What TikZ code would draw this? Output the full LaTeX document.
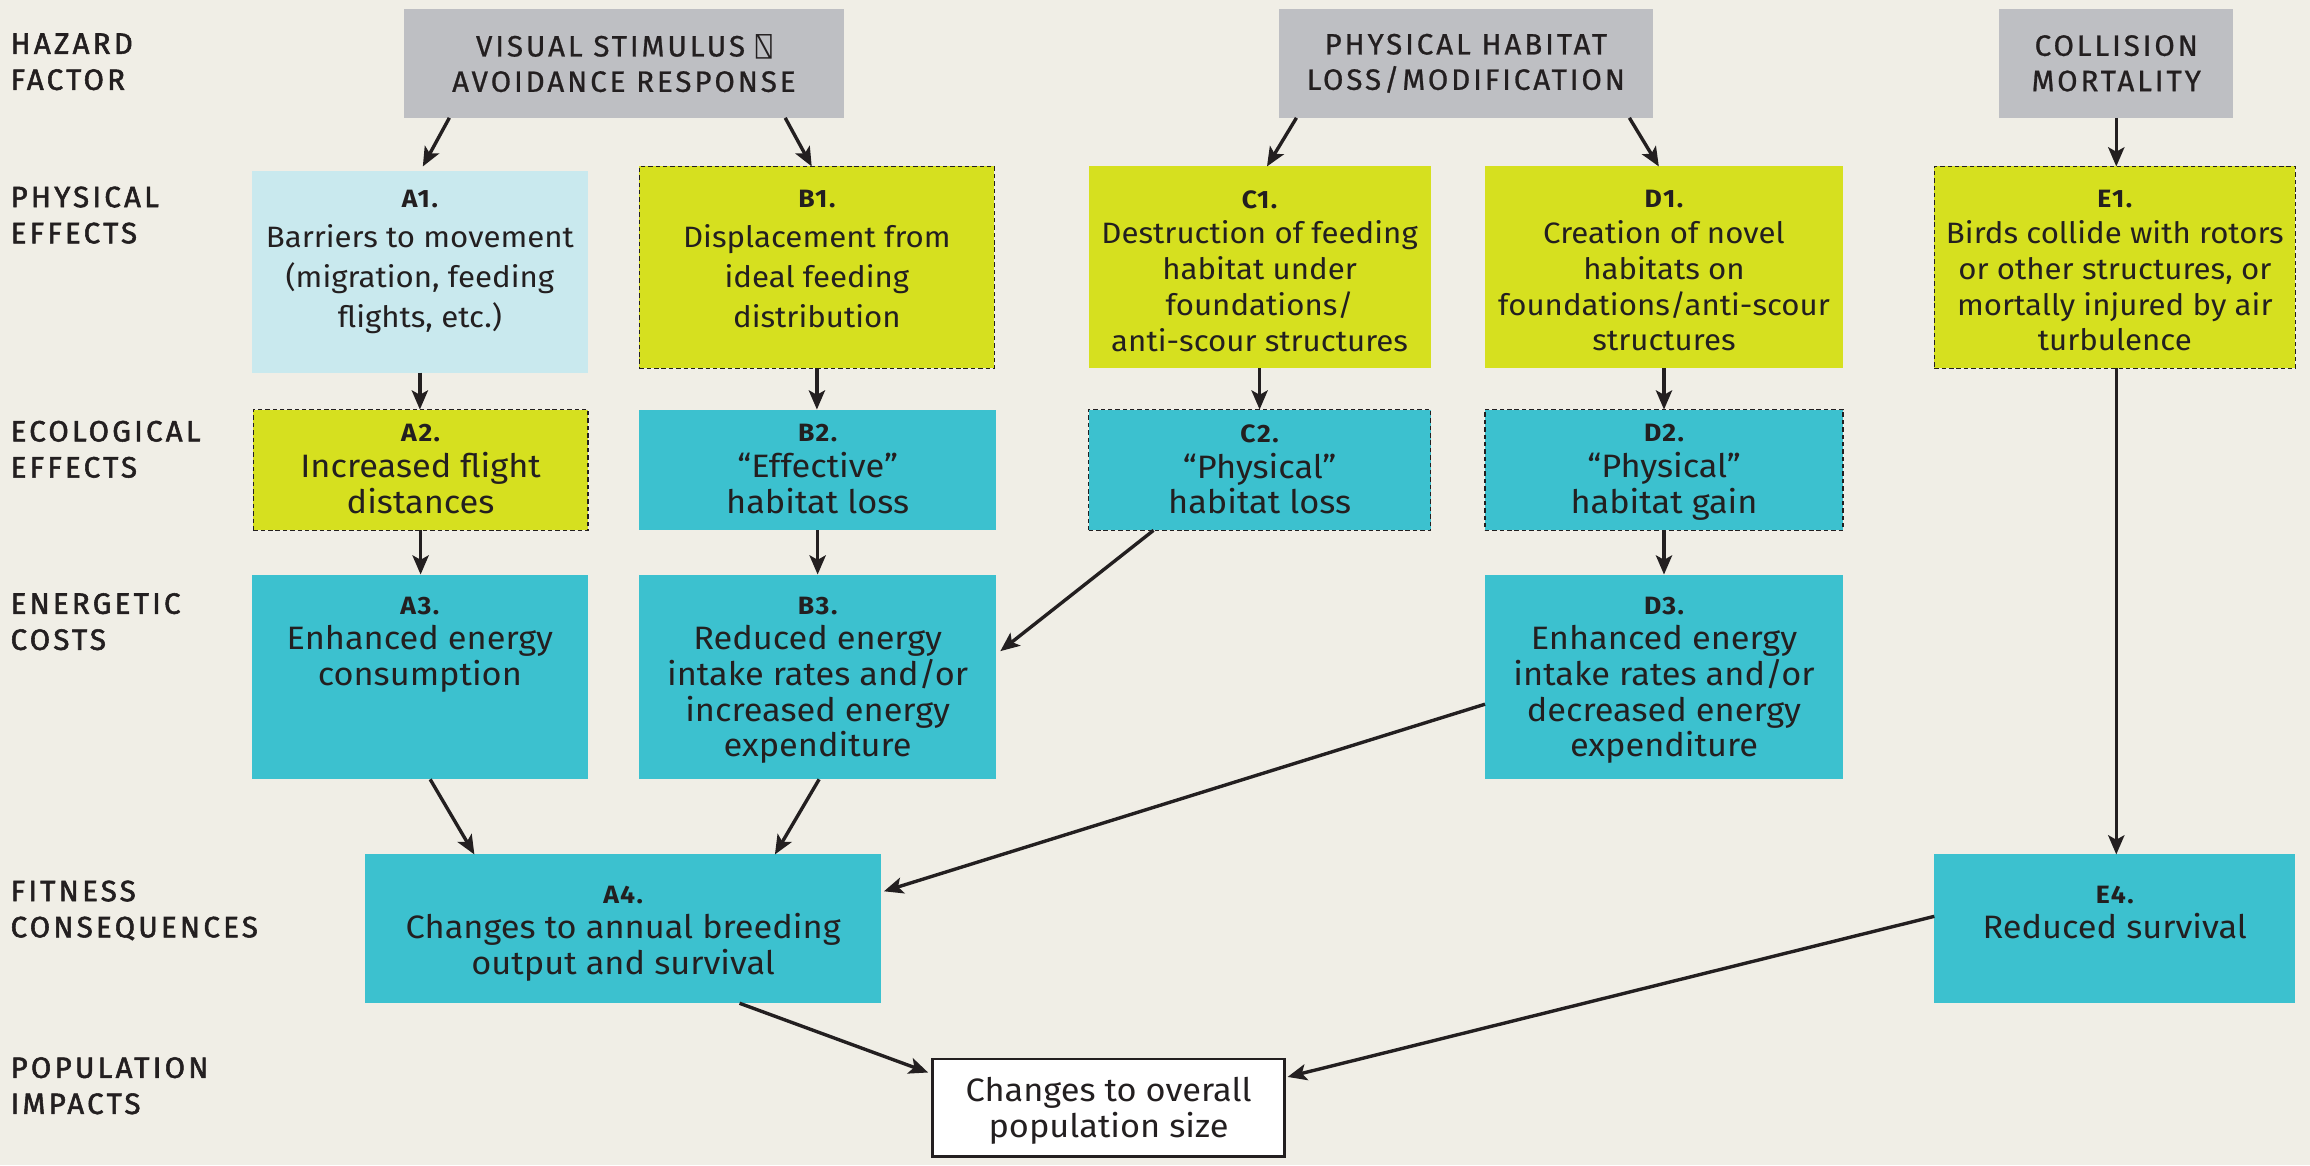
\documentclass[tikz,border=0pt]{standalone}
\usepackage{fontspec}
\setmainfont{Fira Sans}[FakeStretch=1.06]
\newfontfamily\hdfont{Fira Sans}[LetterSpace=10,FakeBold=0.8]
\newfontfamily\sdfont{Fira Sans}[LetterSpace=11,FakeBold=1.8]
\newfontfamily\labfont{Fira Sans Bold}[LetterSpace=6]
\newfontfamily\tofufont{DejaVu Sans Mono}
\usetikzlibrary{arrows.meta,calc}
\definecolor{bg}{HTML}{F0EEE6}
\definecolor{hzgray}{HTML}{BEBFC3}
\definecolor{teal}{HTML}{3CC1CF}
\definecolor{yel}{HTML}{D6E01F}
\definecolor{lblue}{HTML}{C9E9EE}
\definecolor{ink}{HTML}{231F20}
\tikzset{
  bx/.style={anchor=north west,inner sep=0pt,outer sep=0pt,draw=none},
  dbx/.style={bx,draw=ink,line width=1pt,dash pattern=on 3pt off 2pt},
  txt/.style={align=center,inner sep=0pt,anchor=north,text=ink},
  hd/.style={align=center,inner sep=0pt,text=ink,font=\hdfont\fontsize{20}{24}\selectfont},
  side/.style={align=left,inner sep=0pt,anchor=west,text=ink,font=\sdfont\fontsize{20}{24.5}\selectfont},
  rowa/.style={txt,font=\fontsize{20}{24.3}\selectfont},
  rowb/.style={txt,font=\fontsize{22}{24.2}\selectfont},
  arr/.style={draw=ink,line width=2.3pt,-{Stealth[length=13pt,width=11pt,inset=3pt]}}
}
\newcommand\lab[1]{{\bfseries\addfontfeatures{LetterSpace=6}\fontsize{17}{24}\selectfont #1}}
\begin{document}
\begin{tikzpicture}[x=1pt,y=-1pt]
\fill[bg] (0,0) rectangle (1568,791);
\useasboundingbox (0,0) rectangle (1568,791);
% side labels
\node[side] (s1) at (7,42) {HAZARD\\FACTOR};
\node[side] (s2) at (7,146) {PHYSICAL\\EFFECTS};
\node[side] (s3) at (7,305) {ECOLOGICAL\\EFFECTS};
\node[side] (s4) at (7,422) {ENERGETIC\\COSTS};
\node[side] (s5) at (7,618) {FITNESS\\CONSEQUENCES};
\node[side] (s6) at (7,737) {POPULATION\\IMPACTS};
% hazard boxes
\node[bx,fill=hzgray,minimum width=299pt,minimum height=74pt] (VIS) at (274,6) {};
\node[hd] (VISt) at (VIS.center) {VISUAL STIMULUS {\tofufont\fontsize{18}{24}\selectfont ⍂}\\AVOIDANCE RESPONSE};
\node[bx,fill=hzgray,minimum width=254pt,minimum height=74pt] (PHY) at (868,6) {};
\node[hd] (PHYt) at (PHY.center) {PHYSICAL HABITAT\\LOSS/MODIFICATION};
\node[bx,fill=hzgray,minimum width=159pt,minimum height=74pt] (COL) at (1357,6) {};
\node[hd] (COLt) at (COL.center) {COLLISION\\MORTALITY};
% row 1
\node[bx,fill=lblue,minimum width=228pt,minimum height=137pt] (A1) at (171,116) {};
\node[rowa,font=\fontsize{20}{27}\selectfont] (A1t) at ([yshift=-13pt]A1.north) {\lab{A1.}\\Barriers to movement\\(migration, feeding\\flights, etc.)};
\node[dbx,fill=yel,minimum width=241pt,minimum height=137pt] (B1) at (434,113) {};
\node[rowa,font=\fontsize{20}{27}\selectfont] (B1t) at ([yshift=-16pt]B1.north) {\lab{B1.}\\Displacement from\\ideal feeding\\distribution};
\node[bx,fill=yel,minimum width=232pt,minimum height=137pt] (C1) at (739,113) {};
\node[rowa] (C1t) at ([yshift=-16pt]C1.north) {\lab{C1.}\\Destruction of feeding\\habitat under\\foundations/\\anti-scour structures};
\node[bx,fill=yel,minimum width=243pt,minimum height=137pt] (D1) at (1008,113) {};
\node[rowa] (D1t) at ([yshift=-16pt]D1.north) {\lab{D1.}\\Creation of novel\\habitats on\\foundations/anti-scour\\structures};
\node[dbx,fill=yel,minimum width=245pt,minimum height=137pt] (E1) at (1313,113) {};
\node[rowa] (E1t) at ([yshift=-16pt]E1.north) {\lab{E1.}\\Birds collide with rotors\\or other structures, or\\mortally injured by air\\turbulence};
% row 2
\node[dbx,fill=yel,minimum width=227pt,minimum height=82pt] (A2) at (172,278) {};
\node[rowb] (A2t) at ([yshift=-10pt]A2.north) {\lab{A2.}\\Increased flight\\distances};
\node[bx,fill=teal,minimum width=242pt,minimum height=82pt] (B2) at (434,278) {};
\node[rowb] (B2t) at ([yshift=-10pt]B2.north) {\lab{B2.}\\“Effective”\\habitat loss};
\node[dbx,fill=teal,minimum width=232pt,minimum height=82pt] (C2) at (739,278) {};
\node[rowb] (C2t) at ([yshift=-10pt]C2.north) {\lab{C2.}\\“Physical”\\habitat loss};
\node[dbx,fill=teal,minimum width=243pt,minimum height=82pt] (D2) at (1008,278) {};
\node[rowb] (D2t) at ([yshift=-10pt]D2.north) {\lab{D2.}\\“Physical”\\habitat gain};
% row 3
\node[bx,fill=teal,minimum width=228pt,minimum height=139pt] (A3) at (171,390) {};
\node[rowb] (A3t) at ([yshift=-15pt]A3.north) {\lab{A3.}\\Enhanced energy\\consumption};
\node[bx,fill=teal,minimum width=242pt,minimum height=139pt] (B3) at (434,390) {};
\node[rowb] (B3t) at ([yshift=-15pt]B3.north) {\lab{B3.}\\Reduced energy\\intake rates and/or\\increased energy\\expenditure};
\node[bx,fill=teal,minimum width=243pt,minimum height=139pt] (D3) at (1008,390) {};
\node[rowb] (D3t) at ([yshift=-15pt]D3.north) {\lab{D3.}\\Enhanced energy\\intake rates and/or\\decreased energy\\expenditure};
% row 4
\node[bx,fill=teal,minimum width=350pt,minimum height=101pt] (A4) at (248,580) {};
\node[rowb] (A4t) at ([yshift=-21pt]A4.north) {\lab{A4.}\\Changes to annual breeding\\output and survival};
\node[bx,fill=teal,minimum width=245pt,minimum height=101pt] (E4) at (1313,580) {};
\node[rowb] (E4t) at ([yshift=-21pt]E4.north) {\lab{E4.}\\Reduced survival};
% population
\node[bx,fill=white,draw=ink,line width=1.6pt,minimum width=239pt,minimum height=66pt] (POP) at (633,719) {};
\node[rowb,anchor=center] (POPt) at ([yshift=-2pt]POP.center) {Changes to overall\\population size};
% arrows
\draw[arr] ([xshift=31pt]VIS.south west) -- ([xshift=116pt,yshift=3pt]A1.north west);
\draw[arr] ([xshift=259pt]VIS.south west) -- ([xshift=117pt]B1.north west);
\draw[arr] ([xshift=12pt]PHY.south west) -- ([xshift=121pt]C1.north west);
\draw[arr] ([xshift=238pt]PHY.south west) -- ([xshift=118pt]D1.north west);
\draw[arr] (COL.south) -- (COL.south |- E1.north);
\draw[arr] (A1.south) -- (A1.south |- A2.north);
\draw[arr] (B1.south) -- (B1.south |- B2.north);
\draw[arr] (C1.south) -- (C1.south |- C2.north);
\draw[arr] (D1.south) -- (D1.south |- D2.north);
\draw[arr] (A2.south) -- (A2.south |- A3.north);
\draw[arr] (B2.south) -- (B2.south |- B3.north);
\draw[arr] (D2.south) -- (D2.south |- D3.north);
\draw[arr] ([xshift=44pt]C2.south west) -- ([yshift=-52pt,xshift=3pt]B3.north east);
\draw[arr] ([xshift=121pt]A3.south west) -- ([xshift=74pt]A4.north west);
\draw[arr] ([xshift=122pt]B3.south west) -- ([xshift=278pt]A4.north west);
\draw[arr] ([yshift=-88pt]D3.north west) -- ([yshift=-25pt,xshift=2pt]A4.north east);
\draw[arr] (E1.south -| COL.south) -- (COL.south |- E4.north);
\draw[arr] ([xshift=254pt]A4.south west) -- ([yshift=-9pt,xshift=-3pt]POP.north west);
\draw[arr] ([yshift=-42pt]E4.north west) -- ([yshift=-12pt,xshift=2pt]POP.north east);
\end{tikzpicture}
\end{document}
